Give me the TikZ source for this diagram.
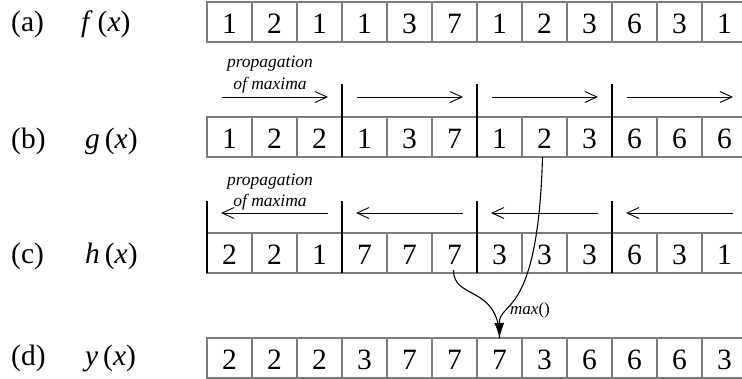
\documentclass[tikz,border=0pt]{standalone}
\usepackage{fontspec}
\setmainfont{Liberation Serif}
\usetikzlibrary{arrows.meta}
\definecolor{cellgray}{RGB}{125,125,125}
\tikzset{
  cell/.style={draw=cellgray, line width=1.6pt, fill=white, minimum width=45pt,
    minimum height=40pt, inner sep=0pt, outer sep=0pt, anchor=north west,
    text height=23pt, text depth=0pt,
    font=\fontsize{29.5}{32}\selectfont},
  rowlab/.style={anchor=west, inner sep=0pt, font=\fontsize{29.5}{32}\selectfont},
  bar/.style={line width=2.6pt, black},
  prop/.style={line width=0.9pt, -{Straight Barb[length=12pt,width=11pt]}},
  note/.style={font=\fontsize{17.5}{19}\selectfont\itshape, inner sep=0pt},
  maxline/.style={line width=1.1pt},
  maxarrow/.style={line width=1.1pt, -{Latex[length=15pt,width=10pt]}}
}
\begin{document}
\begin{tikzpicture}[x=1pt,y=-1pt]
\useasboundingbox (0,0) rectangle (742,378);
% rows of cells
\foreach \v [count=\i] in {1,2,1,1,3,7,1,2,3,6,3,1}
  \node[cell] (a\i) at ({207+45*(\i-1)},2) {\v};
\foreach \v [count=\i] in {1,2,2,1,3,7,1,2,3,6,6,6}
  \node[cell] (b\i) at ({207+45*(\i-1)},117) {\v};
\foreach \v [count=\i] in {2,2,1,7,7,7,3,3,3,6,3,1}
  \node[cell] (c\i) at ({207+45*(\i-1)},233) {\v};
\foreach \v [count=\i] in {2,2,2,3,7,7,7,3,6,6,6,3}
  \node[cell] (d\i) at ({207+45*(\i-1)},338) {\v};
% row labels
\node[rowlab] (la) at (11,24) {(a)};
\node[rowlab] (lb) at (11,141) {(b)};
\node[rowlab] (lc) at (11,256) {(c)};
\node[rowlab] (ld) at (11,358) {(d)};
\node[rowlab] (fa) at (81,24) {\textit{f}\,(\textit{x})};
\node[rowlab] (fb) at (85,141) {\textit{g}\,(\textit{x})};
\node[rowlab] (fc) at (85,256) {\textit{h}\,(\textit{x})};
\node[rowlab] (fd) at (85,358) {\textit{y}\,(\textit{x})};
% block bars, row b
\foreach \k in {4,7,10}
  \draw[bar] ([yshift=33pt]b\k.north west) -- (b\k.south west);
% block bars, row c
\foreach \k in {1,4,7,10}
  \draw[bar] ([yshift=32pt]c\k.north west) -- (c\k.south west);
% forward propagation arrows
\foreach \s in {207,342,477,612}
  \draw[prop] ({\s+15},97) -- ({\s+121},97);
% backward propagation arrows
\foreach \s in {207,342,477,612}
  \draw[prop] ({\s+121},213) -- ({\s+14},213);
% notes
\node[note] (pb1) at (270,64) {propagation};
\node[note] (pb2) at (270,85) {of maxima};
\node[note] (pc1) at (270,182) {propagation};
\node[note] (pc2) at (270,202) {of maxima};
% max combination
\draw[maxline] ([xshift=-1pt,yshift=3pt]c6.south) .. controls (453,300) and (499,285) .. (d7.north);
\draw[maxarrow] ([xshift=-2pt]b8.south) .. controls (538,320) and (499,300) .. (d7.north);
\node[note, font=\fontsize{17}{18}\selectfont] (mx) at (530,310) {\textit{max}()};
\end{tikzpicture}
\end{document}
